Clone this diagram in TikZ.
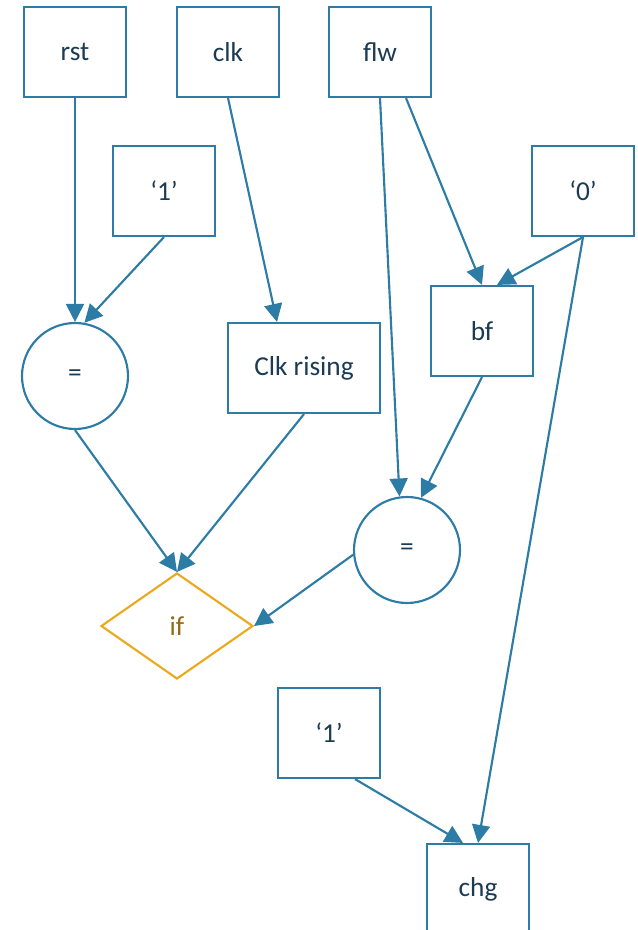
\documentclass[tikz,border=0pt]{standalone}
\usepackage{fontspec}
\setmainfont{Carlito}
\usepackage{xcolor}
\usepackage{tikz}
\usetikzlibrary{shapes.geometric, arrows.meta, calc}

\definecolor{wireblue}{HTML}{2C7CA6}
\definecolor{labelnavy}{HTML}{1B3B52}
\definecolor{condgold}{HTML}{EBA91E}
\definecolor{condbrown}{HTML}{946A12}

\begin{document}
\begin{tikzpicture}[x=0.75pt, y=-0.75pt,
    sig/.style={draw=wireblue, line width=1.6pt, rectangle, minimum width=76.5pt, minimum height=67.5pt,
        inner sep=0pt, text=labelnavy, font=\fontsize{20.5}{24}\selectfont},
    op/.style={draw=wireblue, line width=1.6pt, circle, minimum size=79.5pt,
        inner sep=0pt, text=labelnavy, font=\fontsize{20.5}{24}\selectfont},
    cond/.style={draw=condgold, line width=1.6pt, diamond, minimum width=114pt, minimum height=79.5pt,
        inner sep=0pt, text=condbrown, font=\fontsize{20.5}{24}\selectfont},
    wire/.style={draw=wireblue, line width=1.6pt, -{Triangle[length=13.5pt, width=13.5pt]}}]
    \useasboundingbox (0,0) rectangle (637,930);

    \node (rst) [sig] at (75,52) {rst};
    \node (clk) [sig] at (228,52) {clk};
    \node (flw) [sig] at (380,52) {flw};
    \node (one) [sig] at (164,191) {‘1’};
    \node (zero) [sig] at (583,191) {‘0’};
    \node (bf) [sig] at (482,331) {bf};
    \node (eqa) [op] at (75,376) {=};
    \node (clkr) [sig, minimum width=114pt, minimum height=67.5pt] at (304,368) {Clk rising};
    \node (eqb) [op] at (407,550) {=};
    \node (iff) [cond] at (177,626) {if};
    \node (onel) [sig] at (329,733) {‘1’};
    \node (chg) [sig] at (478,889) {chg};

    \draw[wire] (rst) -- (eqa.north);
    \draw[wire] (one.south) -- (eqa.80);
    \draw[wire] (clk.south) -- ($(clkr.north)+(-27,0)$);
    \draw[wire] ($(flw.south)+(26,0)$) -- (bf.north);
    \draw[wire] (flw.south) -- (eqb.98);
    \draw[wire] (zero.south) -- ($(bf.north)+(15,0)$);
    \draw[wire] (zero.south) -- (chg.north);
    \draw[wire] (bf.south) -- (eqb.75);
    \draw[wire] (eqa.south) -- (iff.north);
    \draw[wire] (clkr.south) -- (iff.north);
    \draw[wire] (eqb.185) -- (iff.east);
    \draw[wire] ($(onel.south)+(26,0)$) -- ($(chg.north)+(-15,0)$);
\end{tikzpicture}
\end{document}
